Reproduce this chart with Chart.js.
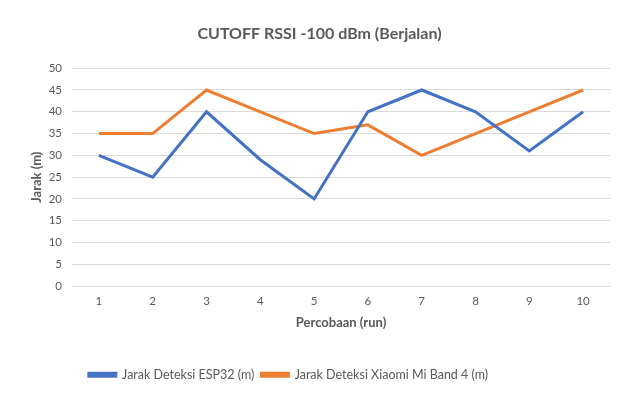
<!DOCTYPE html>
<html>
<head>
<meta charset="utf-8">
<script src="https://cdn.jsdelivr.net/npm/chart.js@4/dist/chart.umd.min.js"></script>
<style>
  body { margin: 0; background: #fff; }
  #wrap { width: 619px; height: 412px; }
</style>
</head>
<body>
<div id="wrap"><canvas id="rssiChart" width="619" height="412"></canvas></div>
<script>
// -------------------------
// Data
// -------------------------
const runs = ['1','2','3','4','5','6','7','8','9','10'];
const esp32Values = [30, 25, 40, 29, 20, 40, 45, 40, 31, 40];
const miBandValues = [35, 35, 45, 40, 35, 37, 30, 35, 40, 45];
const seriesNames = ['Jarak Deteksi ESP32 (m)', 'Jarak Deteksi Xiaomi Mi Band 4 (m)'];

const textGrey = '#595959';
const fontName = 'Lato, "Open Sans", sans-serif';

// legend in the original sits a bit left of centre
const legendShift = {
    id: 'legendShift',
    afterLayout(chart) {
        chart.legend.left -= 31;
        chart.legend.right -= 31;
    }
};

const ctx = document.getElementById('rssiChart').getContext('2d');
const rssiChart = new Chart(ctx, {
    type: 'line',
    data: {
        labels: runs,
        datasets: [{
            label: seriesNames[0],
            data: esp32Values,
            borderColor: '#4472C4',
            backgroundColor: '#4472C4',
            borderWidth: 3,
            pointRadius: 0,
            tension: 0
        }, {
            label: seriesNames[1],
            data: miBandValues,
            borderColor: '#ED7D31',
            backgroundColor: '#ED7D31',
            borderWidth: 3,
            pointRadius: 0,
            tension: 0
        }]
    },
    options: {
        responsive: false,
        animation: false,
        layout: { padding: { left: 29, right: 9, top: 0, bottom: 21 } },
        plugins: {
            title: {
                display: true,
                text: 'CUTOFF RSSI -100 dBm (Berjalan)',
                color: textGrey,
                font: { family: fontName, size: 16, weight: 'bold' },
                padding: { top: 24, bottom: 25 }
            },
            legend: {
                position: 'bottom',
                labels: {
                    color: textGrey,
                    font: { family: fontName, size: 12.5 },
                    boxWidth: 27,
                    boxHeight: 3,
                    padding: 7
                }
            },
            tooltip: { enabled: false }
        },
        scales: {
            x: {
                offset: true,
                grid: { display: false },
                border: { display: false },
                ticks: { color: textGrey, font: { family: fontName, size: 11.5 }, padding: 0 },
                title: {
                    display: true,
                    text: 'Percobaan (run)',
                    color: textGrey,
                    font: { family: fontName, size: 13, weight: 'bold' },
                    padding: { top: 7, bottom: 31 }
                }
            },
            y: {
                min: 0,
                max: 50,
                afterFit(scale) { scale.width = 43; },
                ticks: { stepSize: 5, color: textGrey, font: { family: fontName, size: 11.5 }, padding: 10 },
                grid: { color: '#d9d9d9', drawTicks: false },
                border: { display: false },
                title: {
                    display: true,
                    text: 'Jarak (m)',
                    color: textGrey,
                    font: { family: fontName, size: 13, weight: 'bold' },
                    padding: { top: 0, bottom: 0 }
                }
            }
        }
    },
    plugins: [legendShift]
});
</script>
</body>
</html>
